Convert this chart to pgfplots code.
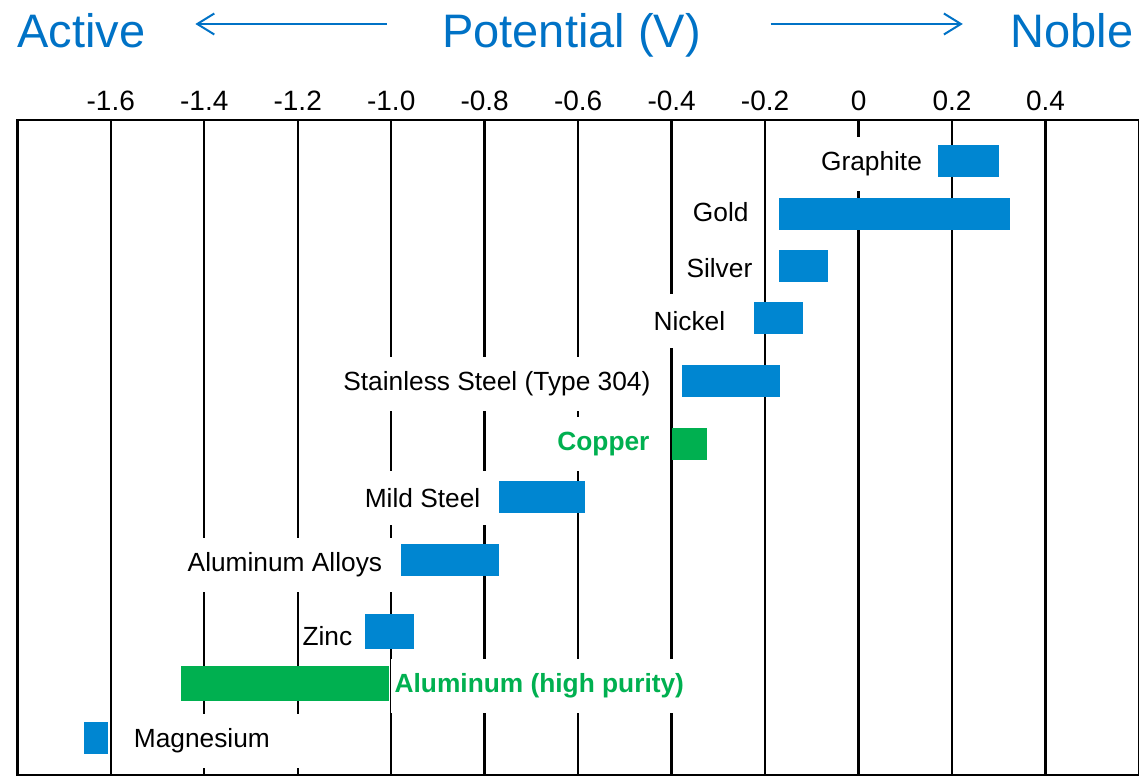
\documentclass[border=0pt]{standalone}
\usepackage{pgfplots}
\pgfplotsset{compat=1.18}
\usepackage{fontspec}
\setmainfont{Liberation Sans}
\usetikzlibrary{arrows.meta}
\definecolor{barblue}{RGB}{0,134,209}
\definecolor{bargreen}{RGB}{0,176,80}
\definecolor{titleblue}{RGB}{0,114,198}
\tikzset{lab/.style={fill=white, inner xsep=10pt, inner ysep=0pt, minimum height=54pt, font=\fontsize{26.3}{26.3}\selectfont}}

\begin{document}
\begin{tikzpicture}
\begin{axis}[
  x=467.3pt, y=1pt,
  xmin=-1.8, xmax=0.6, ymin=-775, ymax=-120,
  axis line style={line width=2.6pt, black},
  xtick={-1.6,-1.4,-1.2,-1.0,-0.8,-0.6,-0.4,-0.2,0,0.2,0.4},
  xticklabels={-1.6,-1.4,-1.2,-1.0,-0.8,-0.6,-0.4,-0.2,0,0.2,0.4},
  xticklabel pos=upper,
  major tick length=0pt,
  ytick=\empty,
  xmajorgrids,
  grid style={black, line width=2.4pt},
  tick label style={font=\fontsize{28}{28}\selectfont, black},
  xticklabel style={yshift=6pt},
  clip=false,
]
% Graphite 0.169 .. 0.300
\addplot[draw=none, fill=barblue] coordinates {(0.169,-145) (0.300,-145) (0.300,-177) (0.169,-177)} -- cycle;
% Gold -0.171 .. 0.325
\addplot[draw=none, fill=barblue] coordinates {(-0.171,-198) (0.325,-198) (0.325,-230) (-0.171,-230)} -- cycle;
% Silver -0.171 .. -0.066
\addplot[draw=none, fill=barblue] coordinates {(-0.171,-250) (-0.066,-250) (-0.066,-282) (-0.171,-282)} -- cycle;
% Nickel -0.223 .. -0.118
\addplot[draw=none, fill=barblue] coordinates {(-0.223,-302) (-0.118,-302) (-0.118,-334) (-0.223,-334)} -- cycle;
% Stainless Steel -0.377 .. -0.169
\addplot[draw=none, fill=barblue] coordinates {(-0.377,-365) (-0.169,-365) (-0.169,-397) (-0.377,-397)} -- cycle;
% Copper -0.400 .. -0.325
\addplot[draw=none, fill=bargreen] coordinates {(-0.400,-428) (-0.325,-428) (-0.325,-460) (-0.400,-460)} -- cycle;
% Mild Steel -0.770 .. -0.586
\addplot[draw=none, fill=barblue] coordinates {(-0.770,-481) (-0.586,-481) (-0.586,-513) (-0.770,-513)} -- cycle;
% Aluminum Alloys -0.980 .. -0.770
\addplot[draw=none, fill=barblue] coordinates {(-0.980,-544) (-0.770,-544) (-0.770,-576) (-0.980,-576)} -- cycle;
% Zinc -1.057 .. -0.952
\addplot[draw=none, fill=barblue] coordinates {(-1.057,-614) (-0.952,-614) (-0.952,-649) (-1.057,-649)} -- cycle;
% Aluminum (high purity) -1.449 .. -1.004
\addplot[draw=none, fill=bargreen] coordinates {(-1.449,-666) (-1.004,-666) (-1.004,-701) (-1.449,-701)} -- cycle;
% Magnesium -1.658 .. -1.605
\addplot[draw=none, fill=barblue] coordinates {(-1.658,-722) (-1.605,-722) (-1.605,-754) (-1.658,-754)} -- cycle;

\node[lab, anchor=east, xshift=10pt] at (axis cs:0.136,-164) {Graphite};
\node[lab, anchor=east, xshift=10pt] at (axis cs:-0.235,-212) {Gold};
\node[lab, anchor=east, xshift=10pt] at (axis cs:-0.227,-268) {Silver};
\node[lab, anchor=east, xshift=10pt] at (axis cs:-0.285,-321) {Nickel};
\node[lab, anchor=east, xshift=10pt] at (axis cs:-0.445,-384) {Stainless Steel (Type 304)};
\node[lab, anchor=east, xshift=10pt, text=bargreen, font=\fontsize{26.3}{26.3}\selectfont\bfseries] at (axis cs:-0.447,-444) {Copper};
\node[lab, anchor=east, xshift=10pt] at (axis cs:-0.809,-498) {Mild Steel};
\node[lab, anchor=east, xshift=10pt] at (axis cs:-1.019,-565) {Aluminum Alloys};
\node[lab, anchor=east, inner xsep=4pt, xshift=4pt] at (axis cs:-1.083,-636) {Zinc};
\node[lab, anchor=west, xshift=-4pt, inner xsep=4pt, text=bargreen, font=\fontsize{26.3}{26.3}\selectfont\bfseries] at (axis cs:-0.993,-686) {Aluminum (high purity)};
\node[lab, anchor=west, xshift=-10pt] at (axis cs:-1.551,-741) {\makebox[160pt][l]{Magnesium}};

\node[anchor=base west, inner sep=0pt, text=titleblue, font=\fontsize{47}{47}\selectfont] at (axis cs:-1.8,-48) {Active};
\node[anchor=base, inner sep=0pt, text=titleblue, font=\fontsize{47}{47}\selectfont] at (axis cs:-0.614,-48) {Potential (V)};
\node[anchor=base east, inner sep=0pt, text=titleblue, font=\fontsize{47}{47}\selectfont] at (axis cs:0.588,-48) {Noble};
\draw[titleblue, line width=2pt, -{Straight Barb[length=17pt, width=21pt, line width=2pt]}] (axis cs:-1.010,-24) -- (axis cs:-1.419,-24);
\draw[titleblue, line width=2pt, -{Straight Barb[length=17pt, width=21pt, line width=2pt]}] (axis cs:-0.188,-24) -- (axis cs:0.223,-24);
\end{axis}
\pgfresetboundingbox
\path[use as bounding box] ([xshift=-17.3pt]current axis.south west) rectangle ([yshift=120pt]current axis.north east);
\end{tikzpicture}
\end{document}
